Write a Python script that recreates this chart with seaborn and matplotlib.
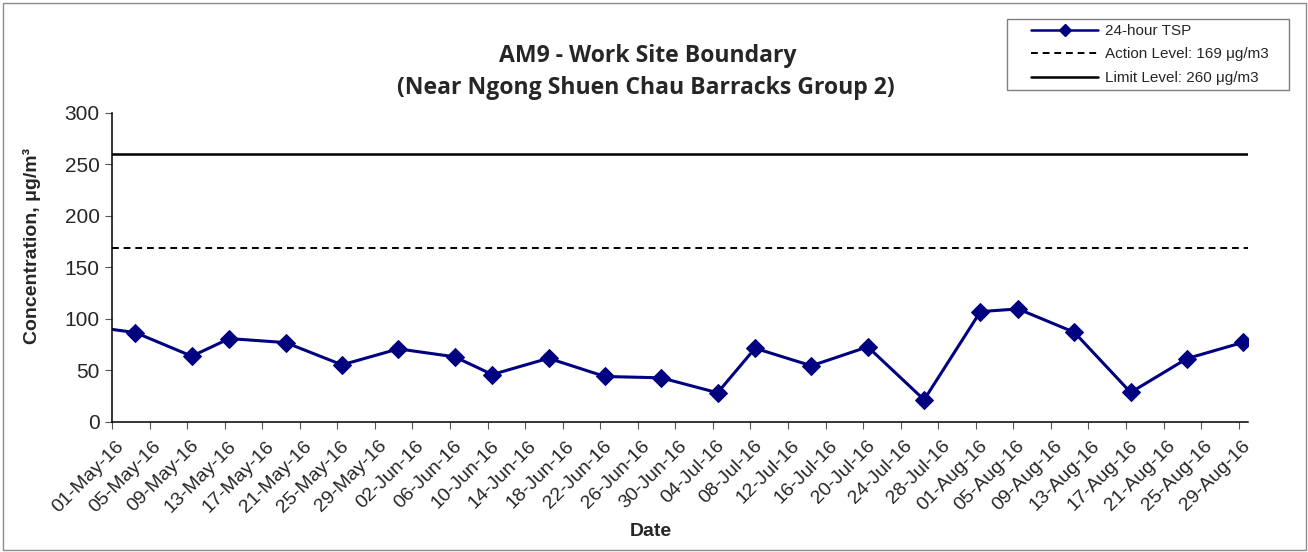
import matplotlib
matplotlib.use("Agg")
import matplotlib.pyplot as plt
from matplotlib.lines import Line2D
from matplotlib.patches import Rectangle
from matplotlib.transforms import ScaledTranslation
import seaborn as sns
import pandas as pd

# ---------------- data ----------------
sample_dates = ['2016-04-27', '2016-05-03', '2016-05-09', '2016-05-13', '2016-05-19',
                '2016-05-25', '2016-05-31', '2016-06-06', '2016-06-10', '2016-06-16',
                '2016-06-22', '2016-06-28', '2016-07-04', '2016-07-08', '2016-07-14',
                '2016-07-20', '2016-07-26', '2016-08-01', '2016-08-05', '2016-08-11',
                '2016-08-17', '2016-08-23', '2016-08-29']
tsp_values = [94, 86.5, 63.6, 80.7, 76.8, 55.2, 70.7, 63.0, 45.8, 61.6, 43.9, 42.6,
              28.1, 71.3, 54.3, 72.7, 21.3, 106.9, 109.5, 86.8, 28.4, 61.3, 77.1]
action_level = 169
limit_level = 260
series_labels = ['24-hour TSP', 'Action Level: 169 \u03bcg/m3', 'Limit Level: 260 \u03bcg/m3']
title_lines = ['AM9 - Work Site Boundary', '(Near Ngong Shuen Chau Barracks Group 2)']
x_label = 'Date'
y_label = 'Concentration, \u03bcg/m\u00b3'
x_start, x_end = '2016-05-01', '2016-08-30'
tick_first, tick_last, tick_step_days = '2016-05-01', '2016-08-29', 4
y_ticks = [0, 50, 100, 150, 200, 250, 300]

# ---------------- style ----------------
sns.set_style("white")
plt.rcParams['font.family'] = ['Liberation Sans', 'DejaVu Sans']

W, H = 1308, 552
fig = plt.figure(figsize=(W / 100, H / 100), dpi=100)
fig.patch.set_facecolor('white')

def fx(px):
    return px / W

def fy(py):
    return 1 - py / H

ax_left, ax_right, ax_top, ax_bottom = 112, 1248, 112.7, 421.7
ax = fig.add_axes([fx(ax_left), fy(ax_bottom), fx(ax_right - ax_left), (ax_bottom - ax_top) / H])

navy = '#000080'
df = pd.DataFrame({'date': pd.to_datetime(sample_dates) + pd.Timedelta(hours=12),
                   'tsp': tsp_values})
sns.lineplot(data=df, x='date', y='tsp', ax=ax, color=navy, linewidth=2.2,
             marker='D', markersize=9.5, markeredgecolor=navy, markerfacecolor=navy)
ax.axhline(action_level, color='black', linestyle=(0, (3.5, 2.5)), linewidth=1.4)
ax.axhline(limit_level, color='black', linestyle='-', linewidth=1.8)

ax.set_xlim(pd.Timestamp(x_start), pd.Timestamp(x_end))
ax.set_ylim(y_ticks[0], y_ticks[-1])
ax.set_yticks(y_ticks)
ticks = pd.date_range(tick_first, tick_last, freq=f'{tick_step_days}D')
ax.set_xticks(ticks)
ax.set_xticklabels([t.strftime('%d-%b-%y') for t in ticks])

ax.set_xlabel('')
ax.set_ylabel('')
for s in ['top', 'right']:
    ax.spines[s].set_visible(False)
for s in ['left', 'bottom']:
    ax.spines[s].set_color('black')
    ax.spines[s].set_linewidth(1.1)
ax.grid(False)
ax.tick_params(axis='y', direction='out', length=5, width=0.8, color='#555555',
               labelsize=15, pad=4, left=True)
ax.tick_params(axis='x', direction='out', length=5, width=0.8, color='#555555',
               labelsize=14, pad=2, bottom=True)
off = ScaledTranslation(9 / 100, -12 / 100, fig.dpi_scale_trans)
for lab in ax.get_xticklabels():
    lab.set_rotation(45)
    lab.set_ha('right')
    lab.set_va('center')
    lab.set_rotation_mode('anchor')
    lab.set_transform(lab.get_transform() + off)

# titles and axis labels
fig.text(fx(648), fy(56), title_lines[0], ha='center', va='center',
         fontsize=16.6, fontweight='bold', family=['Open Sans', 'DejaVu Sans'])
fig.text(fx(646), fy(88), title_lines[1], ha='center', va='center',
         fontsize=16.6, fontweight='bold', family=['Open Sans', 'DejaVu Sans'])
fig.text(fx(651), fy(532), x_label, ha='center', va='center', fontsize=14, fontweight='bold')
fig.text(fx(32), fy(246), y_label, ha='center', va='center', rotation=90,
         fontsize=14, fontweight='bold')

# legend
handles = [Line2D([], [], color=navy, lw=1.8, marker='D', markersize=6),
           Line2D([], [], color='black', lw=1.4, linestyle=(0, (3.5, 2.5))),
           Line2D([], [], color='black', lw=1.8)]
fig.legend(handles, series_labels, loc='upper left', frameon=False,
           bbox_to_anchor=(fx(1031), fy(24)), bbox_transform=fig.transFigure,
           borderpad=0, borderaxespad=0, handlelength=4.4, handletextpad=0.45,
           labelspacing=0.62, fontsize=11)
fig.add_artist(Rectangle((fx(1007), fy(90)), fx(1289 - 1007), (90 - 19) / H,
                         transform=fig.transFigure, fill=False, edgecolor='#7f7f7f', lw=1))
# outer chart border
fig.add_artist(Rectangle((fx(3), fy(550)), fx(1303), 547 / H,
                         transform=fig.transFigure, fill=False, edgecolor='#8c8c8c', lw=1))

fig.savefig('out.png', dpi=100)
